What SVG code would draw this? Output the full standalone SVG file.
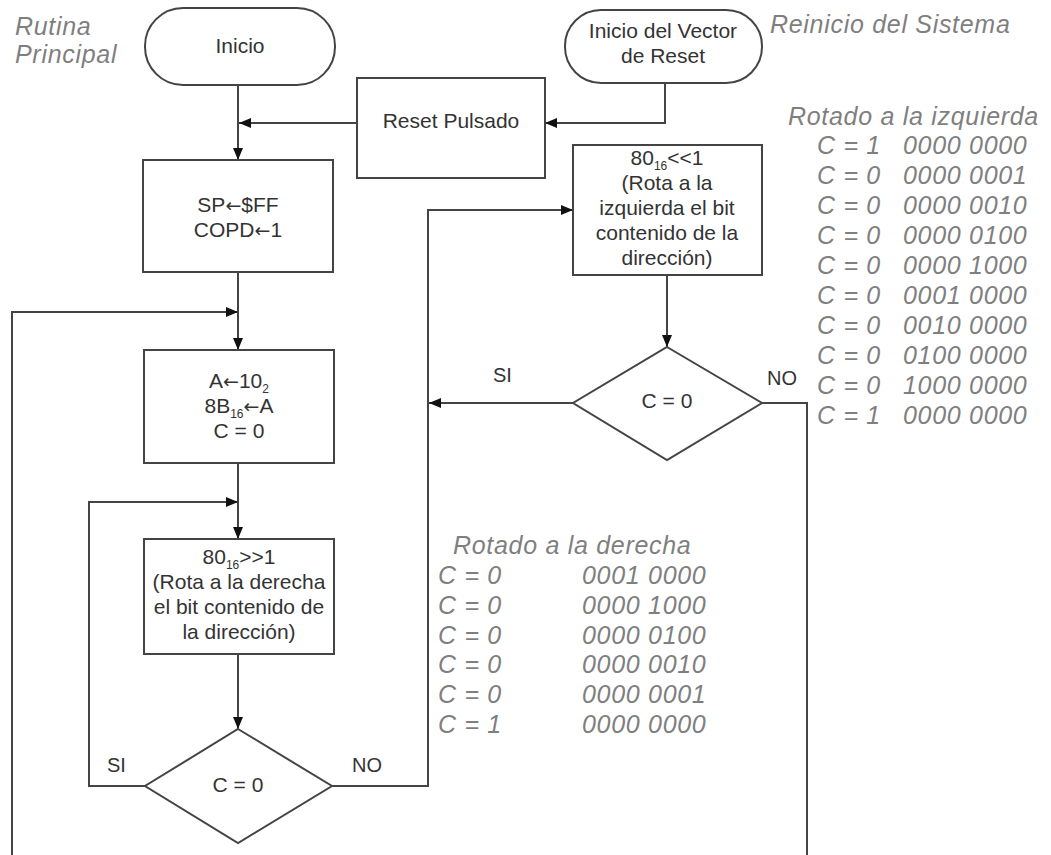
<svg xmlns="http://www.w3.org/2000/svg" width="1051" height="855" viewBox="0 0 1051 855">
<defs>
<style>
.shape{fill:#fff;stroke:#444;stroke-width:2}
.conn{fill:none;stroke:#444;stroke-width:2}
.t{font-family:"Liberation Sans",Arial,sans-serif;font-size:21px;fill:#333;text-anchor:middle}
.lbl{font-family:"Liberation Sans",Arial,sans-serif;font-size:20px;fill:#333}
.note{font-family:"Liberation Sans",Arial,sans-serif;font-style:italic;font-size:25px;fill:#7f7f7f;letter-spacing:0.7px}
.sub{font-size:12px}
.ar{font-family:"DejaVu Sans",sans-serif;font-size:19px}
</style>
<marker id="arr" viewBox="0 0 12 10" markerWidth="12" markerHeight="10" refX="12" refY="5" orient="auto" markerUnits="userSpaceOnUse">
<path d="M0,0 L12,5 L0,10 z" fill="#111"/>
</marker>
</defs>
<rect width="1051" height="855" fill="#fff"/>

<g id="connectors">
<path class="conn" d="M238,85 V160" marker-end="url(#arr)"/>
<path class="conn" d="M665,83 V123 H545" marker-end="url(#arr)"/>
<path class="conn" d="M357,123 H239" marker-end="url(#arr)"/>
<path class="conn" d="M238,272 V350" marker-end="url(#arr)"/>
<path class="conn" d="M12,855 V312 H238" marker-end="url(#arr)"/>
<path class="conn" d="M238,463 V539" marker-end="url(#arr)"/>
<path class="conn" d="M145,786 H89 V502 H238" marker-end="url(#arr)"/>
<path class="conn" d="M238,654 V729" marker-end="url(#arr)"/>
<path class="conn" d="M332,786 H428 V210 H573" marker-end="url(#arr)"/>
<path class="conn" d="M667,275 V347" marker-end="url(#arr)"/>
<path class="conn" d="M573,403 H429" marker-end="url(#arr)"/>
<path class="conn" d="M762,403 H807 V855"/>
</g>

<g id="inicio">
<rect class="shape" x="145" y="8" width="190" height="77" rx="38" ry="38"/>
<text class="t" x="240" y="53">Inicio</text>
</g>

<g id="vector-reset">
<rect class="shape" x="565" y="10" width="197" height="73" rx="36" ry="36"/>
<text class="t" x="663" y="38">Inicio del Vector</text>
<text class="t" x="663" y="63">de Reset</text>
</g>

<g id="reset-pulsado">
<rect class="shape" x="357" y="78" width="188" height="100"/>
<text class="t" x="451" y="128">Reset Pulsado</text>
</g>

<g id="sp-copd">
<rect class="shape" x="143" y="160" width="190" height="112"/>
<text class="t" x="238" y="212">SP<tspan class="ar">←</tspan>$FF</text>
<text class="t" x="238" y="237">COPD<tspan class="ar">←</tspan>1</text>
</g>

<g id="init-a">
<rect class="shape" x="144" y="350" width="190" height="113"/>
<text class="t" x="239" y="388">A<tspan class="ar">←</tspan>10<tspan class="sub" dy="5">2</tspan></text>
<text class="t" x="239" y="413">8B<tspan class="sub" dy="5">16</tspan><tspan class="ar" dy="-5">←</tspan>A</text>
<text class="t" x="239" y="438">C = 0</text>
</g>

<g id="rota-derecha">
<rect class="shape" x="144" y="539" width="190" height="115"/>
<text class="t" x="239" y="564">80<tspan class="sub" dy="5">16</tspan><tspan dy="-5">&gt;&gt;1</tspan></text>
<text class="t" x="239" y="589">(Rota a la derecha</text>
<text class="t" x="239" y="614">el bit contenido de</text>
<text class="t" x="239" y="639">la dirección)</text>
</g>

<g id="decision-1">
<polygon class="shape" points="238,729 332,786 238,843 145,786"/>
<text class="t" x="238" y="792">C = 0</text>
<text class="lbl" x="107" y="772">SI</text>
<text class="lbl" x="352" y="772">NO</text>
</g>

<g id="rota-izquierda">
<rect class="shape" x="573" y="145" width="189" height="130"/>
<text class="t" x="667" y="165">80<tspan class="sub" dy="5">16</tspan><tspan dy="-5">&lt;&lt;1</tspan></text>
<text class="t" x="667" y="190">(Rota a la</text>
<text class="t" x="667" y="215">izquierda el bit</text>
<text class="t" x="667" y="240">contenido de la</text>
<text class="t" x="667" y="265">dirección)</text>
</g>

<g id="decision-2">
<polygon class="shape" points="667,347 762,403 667,460 573,403"/>
<text class="t" x="667" y="408">C = 0</text>
<text class="lbl" x="493" y="382">SI</text>
<text class="lbl" x="767" y="385">NO</text>
</g>

<g id="notes">
<text class="note" x="15" y="35">Rutina</text>
<text class="note" x="15" y="63">Principal</text>
<text class="note" x="770" y="33">Reinicio del Sistema</text>
<text class="note" x="788" y="125">Rotado a la izquierda</text>
<text class="note" x="817" y="154">C = 1</text><text class="note" x="903" y="154">0000 0000</text>
<text class="note" x="817" y="184">C = 0</text><text class="note" x="903" y="184">0000 0001</text>
<text class="note" x="817" y="214">C = 0</text><text class="note" x="903" y="214">0000 0010</text>
<text class="note" x="817" y="244">C = 0</text><text class="note" x="903" y="244">0000 0100</text>
<text class="note" x="817" y="274">C = 0</text><text class="note" x="903" y="274">0000 1000</text>
<text class="note" x="817" y="304">C = 0</text><text class="note" x="903" y="304">0001 0000</text>
<text class="note" x="817" y="334">C = 0</text><text class="note" x="903" y="334">0010 0000</text>
<text class="note" x="817" y="364">C = 0</text><text class="note" x="903" y="364">0100 0000</text>
<text class="note" x="817" y="394">C = 0</text><text class="note" x="903" y="394">1000 0000</text>
<text class="note" x="817" y="424">C = 1</text><text class="note" x="903" y="424">0000 0000</text>
<text class="note" x="453" y="554">Rotado a la derecha</text>
<text class="note" x="438" y="584">C = 0</text><text class="note" x="582" y="584">0001 0000</text>
<text class="note" x="438" y="614">C = 0</text><text class="note" x="582" y="614">0000 1000</text>
<text class="note" x="438" y="644">C = 0</text><text class="note" x="582" y="644">0000 0100</text>
<text class="note" x="438" y="673">C = 0</text><text class="note" x="582" y="673">0000 0010</text>
<text class="note" x="438" y="703">C = 0</text><text class="note" x="582" y="703">0000 0001</text>
<text class="note" x="438" y="733">C = 1</text><text class="note" x="582" y="733">0000 0000</text>
</g>
</svg>
